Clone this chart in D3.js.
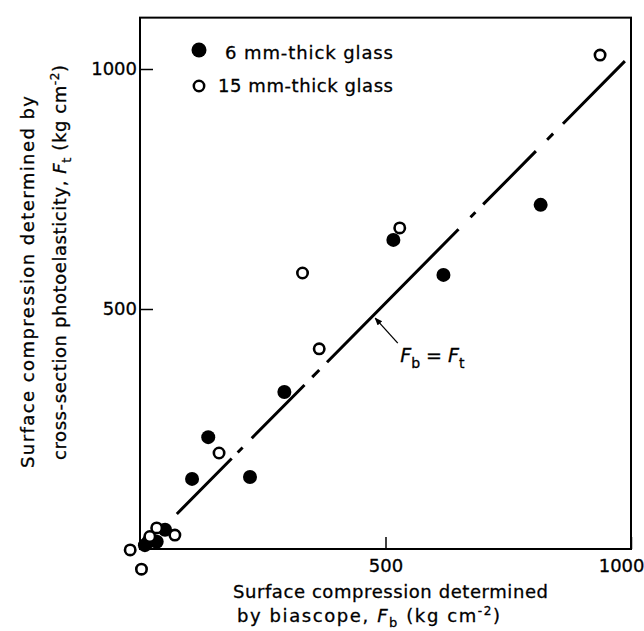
<!DOCTYPE html>
<html>
<head>
<meta charset="utf-8">
<script src="https://cdn.jsdelivr.net/npm/d3@7"></script>
<style>
	html, body { margin: 0; padding: 0; background: #fff; }
	svg { display: block; font-family: "DejaVu Sans", sans-serif; }
	svg text { stroke: #000; stroke-width: 0.3px; }
</style>
</head>
<body>
<div id="app"></div>
<script>
// 6 mm-thick glass (filled dots): biascope Fb, photoelastic Ft
const thinFb = [10, 17, 34, 51, 106, 139, 224, 294, 516, 618, 816];
const thinFt = [8, 15, 15, 40, 146, 233, 150, 327, 644, 571, 717];

// 15 mm-thick glass (open dots)
const thickFb = [-20, 3, 20, 34, 71, 161, 331, 365, 529, 937];
const thickFt = [-2, -42, 26, 44, 29, 200, 575, 417, 669, 1029];

// Fb = Ft reference line, as drawn
const refFb = [75, 994];
const refFt = [73, 1023];

const xTicks = [500, 1000];
const yTicks = [500, 1000];
const xMax = 1000,
	yMax = 1107;

const legendLabels = ['6 mm-thick glass', '15 mm-thick glass'];

let svg = d3.select('#app').append('svg')
	.attr('width', 644)
	.attr('height', 631);

let x = d3.scaleLinear()
	.domain([0, 1000])
	.range([140, 631]);

let y = d3.scaleLinear()
	.domain([0, 1000])
	.range([549, 69]);

// frame
svg.append('rect')
	.attr('x', x(0))
	.attr('y', y(yMax))
	.attr('width', x(xMax) - x(0))
	.attr('height', y(0) - y(yMax))
	.attr('fill', 'none')
	.attr('stroke', '#000')
	.attr('stroke-width', 2);

// axes, ticks pointing inward
let gx = svg.append('g')
	.attr('transform', `translate(0,${ y(0) })`)
	.call(d3.axisBottom(x).tickValues(xTicks).tickSize(-12).tickPadding(10).tickFormat(d3.format('d')));
gx.select('.domain').remove();
gx.selectAll('.tick line').attr('stroke-width', 1.5);
gx.selectAll('.tick text')
	.attr('font-size', 18)
	.attr('font-family', '"DejaVu Sans", sans-serif')
	.attr('fill', '#000');
gx.select('.tick:last-of-type text')
	.attr('text-anchor', 'end')
	.attr('x', 13);

let gy = svg.append('g')
	.attr('transform', `translate(${ x(0) },0)`)
	.call(d3.axisLeft(y).tickValues(yTicks).tickSize(-13).tickPadding(3).tickFormat(d3.format('d')));
gy.select('.domain').remove();
gy.selectAll('.tick line').attr('stroke-width', 1.5);
gy.selectAll('.tick text')
	.attr('font-size', 18)
	.attr('font-family', '"DejaVu Sans", sans-serif')
	.attr('fill', '#000');

// reference line Fb = Ft, long dash / dot pattern
svg.append('path')
	.datum(refFb.map((d, i) => [d, refFt[i]]))
	.attr('d', d3.line().x(d => x(d[0])).y(d => y(d[1])))
	.attr('fill', 'none')
	.attr('stroke', '#000')
	.attr('stroke-width', 3)
	.attr('stroke-dasharray', '78,8.5,7,13,75,11,10,11,187,17,7,11,75,16,8.5,14,88');

// leader to the line and its label
svg.append('defs').append('marker')
	.attr('id', 'arr')
	.attr('viewBox', '0 0 10 10')
	.attr('refX', 9)
	.attr('refY', 5)
	.attr('markerWidth', 6)
	.attr('markerHeight', 6)
	.attr('orient', 'auto')
	.append('path')
	.attr('d', 'M0,1L10,5L0,9Z')
	.attr('fill', '#000');

svg.append('line')
	.attr('x1', x(525)).attr('y1', y(429))
	.attr('x2', x(479)).attr('y2', y(481))
	.attr('stroke', '#000')
	.attr('stroke-width', 1.3)
	.attr('marker-end', 'url(#arr)');

let eq = svg.append('text')
	.attr('x', x(530))
	.attr('y', y(390))
	.attr('font-size', 19);
eq.append('tspan').attr('font-style', 'italic').text('F');
eq.append('tspan').attr('font-size', 14).attr('dy', 6).text('b');
eq.append('tspan').attr('dy', -6).text(' = ');
eq.append('tspan').attr('font-style', 'italic').text('F');
eq.append('tspan').attr('font-size', 14).attr('dy', 6).text('t');

// data points
svg.append('g')
	.selectAll('circle')
	.data(thinFb.map((d, i) => [d, thinFt[i]]))
	.enter().append('circle')
		.attr('cx', d => x(d[0]))
		.attr('cy', d => y(d[1]))
		.attr('r', 7)
		.attr('fill', '#000');

svg.append('g')
	.selectAll('circle')
	.data(thickFb.map((d, i) => [d, thickFt[i]]))
	.enter().append('circle')
		.attr('cx', d => x(d[0]))
		.attr('cy', d => y(d[1]))
		.attr('r', 5.2)
		.attr('fill', '#fff')
		.attr('stroke', '#000')
		.attr('stroke-width', 2.6);

// legend
let legend = svg.append('g');
legend.append('circle')
	.attr('cx', 199).attr('cy', 50).attr('r', 7.5)
	.attr('fill', '#000');
legend.append('circle')
	.attr('cx', 199).attr('cy', 86).attr('r', 5.2)
	.attr('fill', '#fff').attr('stroke', '#000').attr('stroke-width', 2.5);
legend.append('text')
	.attr('x', 225).attr('y', 59)
	.attr('font-size', 18)
	.attr('textLength', 168)
	.text(legendLabels[0]);
legend.append('text')
	.attr('x', 218).attr('y', 92)
	.attr('font-size', 18)
	.attr('textLength', 175)
	.text(legendLabels[1]);

// axis titles
let unit = function (t, sub) {
	t.append('tspan').attr('font-style', 'italic').text('F');
	t.append('tspan').attr('font-size', 13).attr('dy', 5).text(sub);
	t.append('tspan').attr('dy', -5).text(' (kg cm');
	t.append('tspan').attr('font-size', 12).attr('dy', -7).text('-2');
	t.append('tspan').attr('dy', 7).text(')');
};

svg.append('text')
	.attr('x', 233).attr('y', 598)
	.attr('font-size', 18)
	.attr('textLength', 315)
	.text('Surface compression determined');

let xt2 = svg.append('text')
	.attr('x', 237).attr('y', 622)
	.attr('font-size', 18)
	.attr('textLength', 263);
xt2.append('tspan').text('by biascope, ');
unit(xt2, 'b');

svg.append('text')
	.attr('transform', 'translate(34,468) rotate(-90)')
	.attr('font-size', 18)
	.attr('textLength', 372)
	.text('Surface compression determined by');

let yt2 = svg.append('text')
	.attr('transform', 'translate(66,460) rotate(-90)')
	.attr('font-size', 18)
	.attr('textLength', 395);
yt2.append('tspan').text('cross-section photoelasticity, ');
unit(yt2, 't');
</script>
</body>
</html>
